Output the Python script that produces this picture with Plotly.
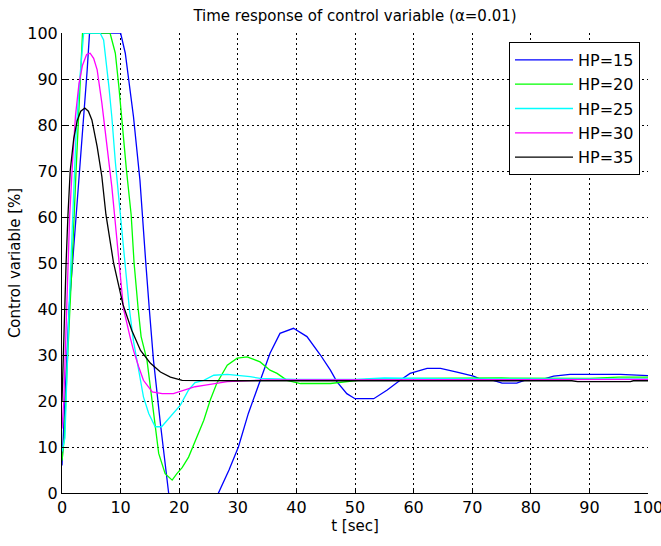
import plotly.graph_objects as go

# ---- data ----
t_hp15 = [0, 0.3, 0.7, 1.2, 1.8, 2.3, 2.9, 3.4, 3.9, 4.3, 4.7, 10.0, 10.8, 12.2, 13.3, 13.7, 14.3, 14.9,
          15.6, 16.8, 18.2, 20.0, 22.5, 25.0, 26.7, 28.5, 30.1, 31.8, 33.8, 35.5, 37.2, 39.5, 41.8, 44.1,
          45.8, 46.9, 48.6, 50.0, 53.2, 55.5, 57.7, 59.4, 62.3, 64.6, 67.4, 70.2, 71.1, 73.6, 75.1, 77.6,
          79.4, 82.0, 83.9, 86.7, 95.3, 100]
v_hp15 = [6, 14, 25, 40, 50, 58, 68, 76, 84, 92, 100, 100, 95.6, 81.8, 68, 60, 50, 40,
          29, 15, 0, -12, -20, -12, 0, 5, 10, 17.3, 24.5, 30.4, 34.7, 35.8, 34, 30,
          26.7, 24.2, 21.6, 20.5, 20.5, 22.4, 24.5, 26, 27.1, 27.1, 26.3, 25.4, 24.9, 24.5, 23.9, 23.9,
          24.7, 24.7, 25.4, 25.8, 25.8, 25.5]

t_hp20 = [0, 0.4, 0.8, 1.4, 1.9, 2.4, 2.9, 3.5, 8.2, 9.1, 9.7, 10.2, 11.0, 11.8, 12.3, 13.0, 13.5, 14.5,
          15.6, 16.5, 17.6, 18.8, 19.6, 20.5, 21.6, 22.6, 24.2, 25.3, 26.4, 28.2, 29.9, 31.6, 33.8, 35.5,
          36.7, 38.4, 40.7, 45.8, 48.6, 52, 60, 75, 90, 95, 100]
v_hp20 = [7, 12, 25, 40, 55, 70, 85, 100, 100, 95.6, 88.4, 81, 70.2, 60.5, 50, 40, 34, 28.9,
          17.3, 8.6, 4.2, 2.8, 4.2, 5.5, 7.8, 10.8, 15.8, 20.2, 23.8, 27.8, 29.3, 29.6, 28.5, 26.7,
          26, 24.5, 23.8, 23.8, 24.2, 24.7, 24.9, 25, 24.9, 25.2, 25.2]

t_hp25 = [0, 0.5, 1.2, 1.8, 2.4, 2.9, 3.7, 6.5, 7.1, 8.0, 8.5, 9.1, 9.6, 10.1, 10.8, 11.5, 12.2, 13.1,
          13.9, 14.8, 15.9, 17.0, 18.5, 20.2, 21.6, 22.7, 24.2, 25.9, 28.2, 32.1, 33.8, 40, 50, 55, 62,
          70, 100]
v_hp25 = [9, 12, 40, 60, 78, 88, 100, 100, 98.5, 88.4, 81.8, 72, 65, 59, 50, 40, 33, 26.7,
          20.9, 17.3, 14.4, 14.4, 16.5, 19.1, 22.4, 24, 24.5, 25.6, 25.8, 25.3, 24.9, 24.7, 24.7, 25.0, 24.9,
          24.8, 24.8]

t_hp30 = [0, 0.3, 0.8, 1.3, 1.8, 2.3, 2.9, 3.5, 4.2, 4.8, 5.4, 6.0, 6.8, 7.7, 8.5, 9.0, 9.7, 10.5,
          11.6, 12.2, 13.1, 13.9, 15.4, 17.1, 19.0, 21.0, 22.7, 24.2, 26, 28.2, 35, 100]
v_hp30 = [14, 20, 40, 60, 72, 82, 89, 93, 95.3, 95.6, 94.5, 92, 84.8, 75.3, 66.6, 60, 50, 40,
          34, 31, 27.4, 24.5, 22, 21.6, 21.6, 22.4, 23.1, 23.4, 23.8, 24.2, 24.6, 24.7]

t_hp35 = [0, 0.3, 0.7, 1.0, 1.4, 2.0, 2.6, 3.2, 3.9, 4.5, 5.1, 6.0, 6.8, 7.5, 8.8, 10.4, 11.9, 13.4,
          15.1, 16.8, 18.5, 20.5, 30, 60, 87, 88, 97, 97.5, 100]
v_hp35 = [20, 35, 50, 60, 70, 77, 81, 83, 83.7, 83, 81.1, 75.3, 68.8, 60.5, 50, 41, 35.4, 31,
          28.2, 26.3, 25.2, 24.5, 24.4, 24.4, 24.4, 24.2, 24.2, 24.4, 24.4]

series_names = ["HP=15", "HP=20", "HP=25", "HP=30", "HP=35"]
series_colors = ["#0000FF", "#00FF00", "#00FFFF", "#FF00FF", "#000000"]
series_t = [t_hp15, t_hp20, t_hp25, t_hp30, t_hp35]
series_v = [v_hp15, v_hp20, v_hp25, v_hp30, v_hp35]

x_ticks = [0, 10, 20, 30, 40, 50, 60, 70, 80, 90, 100]
y_ticks = [0, 10, 20, 30, 40, 50, 60, 70, 80, 90, 100]

FONT = "DejaVu Sans"

fig = go.Figure()
for name, col, tt, vv in zip(series_names, series_colors, series_t, series_v):
    fig.add_trace(go.Scatter(x=tt, y=vv, mode="lines", name=name, legendgroup=name,
                             line=dict(color=col, width=1.3)))

axis_common = dict(
    range=[0, 100], showgrid=True, gridcolor="black", gridwidth=1, griddash="2px,3px",
    zeroline=False, showline=True, linecolor="black", linewidth=1,
    ticks="inside", ticklen=5, tickcolor="black", automargin=False,
    ticklabeloverflow="allow",
    tickfont=dict(family=FONT, size=16, color="black"),
)

fig.update_layout(
    width=661, height=546,
    margin=dict(l=62, r=13, t=33, b=53),
    paper_bgcolor="white", plot_bgcolor="white",
    font=dict(family=FONT, size=16, color="black"),
    title=dict(text="Time response of control variable (\u03b1=0.01)", x=0.5, xref="paper",
               xanchor="center", y=0.972, yanchor="middle",
               font=dict(family=FONT, size=15, color="black")),
    xaxis=dict(axis_common, tickvals=x_ticks, ticktext=[str(v) for v in x_ticks],
               title=dict(text="t [sec]", standoff=0, font=dict(family=FONT, size=15))),
    yaxis=dict(axis_common, tickvals=y_ticks, ticktext=[str(v) for v in y_ticks],
               title=dict(text="Control variable [%]", standoff=3, font=dict(family=FONT, size=15))),
    xaxis2=dict(overlaying="x", side="top", range=[0, 100], tickvals=x_ticks, ticks="inside",
                ticklen=5, tickcolor="black", showticklabels=False, showgrid=False, zeroline=False,
                showline=False, automargin=False),
    yaxis2=dict(overlaying="y", side="right", range=[0, 100], tickvals=y_ticks, ticks="inside",
                ticklen=5, tickcolor="black", showticklabels=False, showgrid=False, zeroline=False,
                showline=False, automargin=False),
    legend=dict(x=0.7628, y=0.9804, xanchor="left", yanchor="top", bgcolor="white",
                bordercolor="black", borderwidth=1, traceorder="grouped", tracegroupgap=0.5,
                itemwidth=58, font=dict(family=FONT, size=16, color="black")),
    showlegend=True,
)

fig.write_html("out.html", config={"displayModeBar": False},
               post_script="document.body.style.margin='0';")
